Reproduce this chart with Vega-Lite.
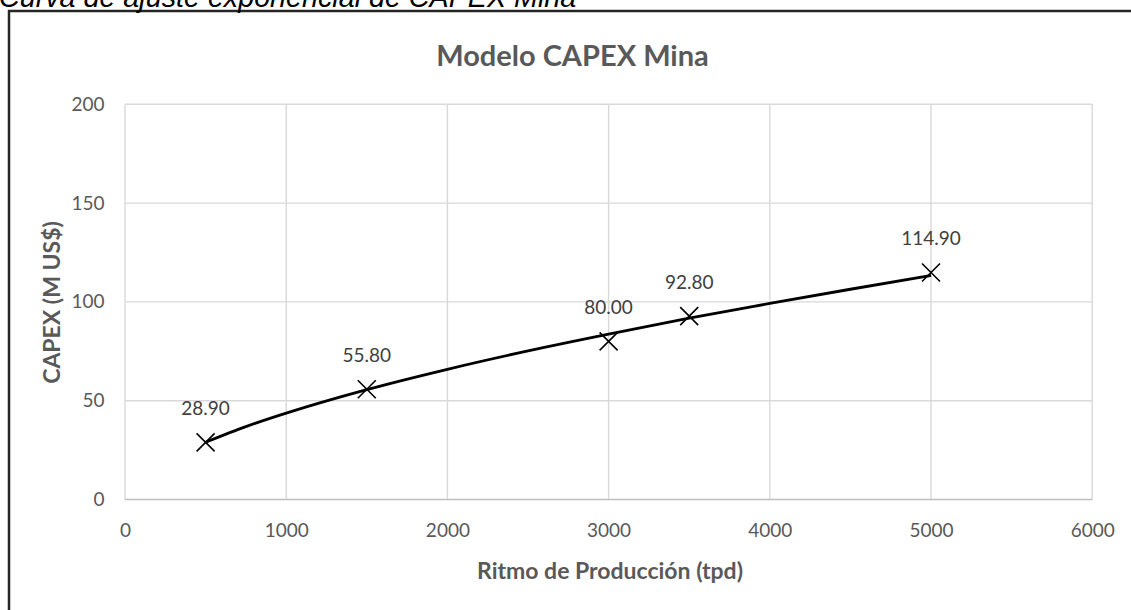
{
  "$schema": "https://vega.github.io/schema/vega-lite/v6.json",
  "autosize": "none",
  "padding": {"left": 9, "top": 11, "right": -20, "bottom": -20},
  "width": 1142,
  "height": 619,
  "background": "white",
  "view": {"stroke": "#262626", "strokeWidth": 2.5, "fill": "white"},
  "title": {
    "text": "Curva de ajuste exponencial de CAPEX Mina",
    "anchor": "start",
    "frame": "group",
    "dx": -10,
    "offset": -25,
    "baseline": "alphabetic",
    "font": "Liberation Sans",
    "fontSize": 28.7,
    "fontStyle": "italic",
    "fontWeight": "normal",
    "color": "black"
  },
  "datasets": {
    "points": [
      {"x": 500, "y": 28.9},
      {"x": 1500, "y": 55.8},
      {"x": 3000, "y": 80.0},
      {"x": 3500, "y": 92.8},
      {"x": 5000, "y": 114.9}
    ],
    "curve": [
      {"x": 500, "y": 29.0},
      {"x": 750, "y": 36.9},
      {"x": 1000, "y": 43.7},
      {"x": 1500, "y": 55.6},
      {"x": 2000, "y": 65.9},
      {"x": 2500, "y": 75.2},
      {"x": 3000, "y": 83.7},
      {"x": 3500, "y": 91.8},
      {"x": 4000, "y": 99.2},
      {"x": 4500, "y": 106.4},
      {"x": 5000, "y": 113.4}
    ],
    "xgrid": [
      {"x": 0}, {"x": 1000}, {"x": 2000}, {"x": 3000}, {"x": 4000}, {"x": 5000}, {"x": 6000}
    ],
    "ygrid": [
      {"y": 0}, {"y": 50}, {"y": 100}, {"y": 150}, {"y": 200}
    ]
  },
  "resolve": {"axis": {"x": "independent"}},
  "layer": [
    {
      "data": {"name": "xgrid"},
      "mark": {"type": "rule", "color": "#d9d9d9", "strokeWidth": 1.4},
      "encoding": {
        "x": {
          "field": "x",
          "type": "quantitative",
          "scale": {"domain": [-719.6, 6364.7], "nice": false, "zero": false},
          "axis": {
            "orient": "bottom",
            "offset": -130.5,
            "values": [0, 1000, 2000, 3000, 4000, 5000, 6000],
            "format": "d",
            "domain": false,
            "ticks": false,
            "tickSize": 0,
            "grid": false,
            "labelPadding": 22,
            "labelFont": "Lato",
            "labelFontSize": 19,
            "labelColor": "#595959",
            "title": "Ritmo de Producción (tpd)",
            "titleFont": "Lato",
            "titleFontSize": 23,
            "titleFontWeight": "bold",
            "titleColor": "#595959",
            "titleX": 600.5,
            "titleY": 79,
            "titleBaseline": "alphabetic",
            "titleAlign": "center"
          }
        },
        "y": {
          "datum": 0,
          "type": "quantitative",
          "scale": {"domain": [-66.05, 247.22], "nice": false, "zero": false},
          "axis": {
            "orient": "left",
            "offset": -116,
            "values": [0, 50, 100, 150, 200],
            "format": "d",
            "domain": false,
            "ticks": false,
            "tickSize": 0,
            "grid": false,
            "labelPadding": 21,
            "labelFont": "Lato",
            "labelFontSize": 19,
            "labelColor": "#595959",
            "title": "CAPEX (M US$)",
            "titleFont": "Lato",
            "titleFontSize": 23,
            "titleFontWeight": "bold",
            "titleColor": "#595959",
            "titleAngle": -90,
            "titleX": -73,
            "titleY": 291,
            "titleAlign": "center",
            "titleBaseline": "middle"
          }
        },
        "y2": {"datum": 200}
      }
    },
    {
      "data": {"name": "ygrid"},
      "mark": {"type": "rule", "strokeWidth": 1.4},
      "encoding": {
        "x": {
          "datum": 0,
          "type": "quantitative",
          "axis": {
            "orient": "top",
            "domain": false,
            "ticks": false,
            "labels": false,
            "grid": false,
            "title": "Modelo CAPEX Mina",
            "titleFont": "Lato",
            "titleFontSize": 29,
            "titleFontWeight": "bold",
            "titleColor": "#595959",
            "titleX": 563,
            "titleY": 54,
            "titleAlign": "center",
            "titleBaseline": "alphabetic"
          }
        },
        "x2": {"datum": 6000},
        "y": {"field": "y", "type": "quantitative"},
        "color": {
          "condition": {"test": "datum.y === 0", "value": "#bfbfbf"},
          "value": "#d9d9d9"
        }
      }
    },
    {
      "data": {"name": "curve"},
      "mark": {"type": "line", "color": "black", "strokeWidth": 2.8, "interpolate": "monotone"},
      "encoding": {
        "x": {"field": "x", "type": "quantitative", "axis": null},
        "y": {"field": "y", "type": "quantitative"}
      }
    },
    {
      "data": {"name": "points"},
      "mark": {
        "type": "point",
        "shape": "M-1,-1L1,1M1,-1L-1,1",
        "filled": false,
        "stroke": "black",
        "strokeWidth": 1.6,
        "size": 324,
        "opacity": 1
      },
      "encoding": {
        "x": {"field": "x", "type": "quantitative", "axis": null},
        "y": {"field": "y", "type": "quantitative"}
      }
    },
    {
      "data": {"name": "points"},
      "mark": {
        "type": "text",
        "dy": -33,
        "baseline": "middle",
        "align": "center",
        "font": "Lato",
        "fontSize": 19,
        "color": "#404040"
      },
      "encoding": {
        "x": {"field": "x", "type": "quantitative", "axis": null},
        "y": {"field": "y", "type": "quantitative"},
        "text": {"field": "y", "type": "quantitative", "format": ".2f"}
      }
    }
  ]
}
